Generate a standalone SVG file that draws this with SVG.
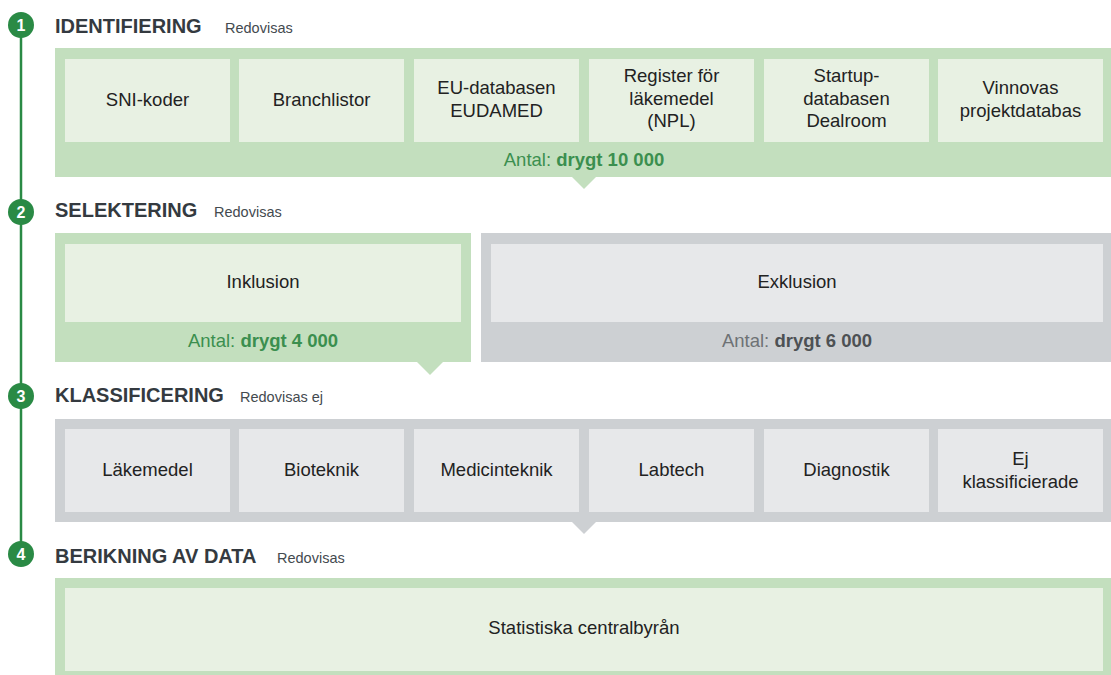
<svg xmlns="http://www.w3.org/2000/svg" width="1111" height="675" viewBox="0 0 1111 675">
<style>
  .h{font-family:"Liberation Sans",Arial,sans-serif;font-weight:bold;font-size:20px;fill:#343a40}
  .sub{font-family:"Liberation Sans",Arial,sans-serif;font-size:14.5px;fill:#444a4f}
  .t{font-family:"Liberation Sans",Arial,sans-serif;font-size:18.5px;fill:#222;text-anchor:middle}
  .ag{font-family:"Liberation Sans",Arial,sans-serif;font-size:18.5px;fill:#3b8f4f;text-anchor:middle}
  .ay{font-family:"Liberation Sans",Arial,sans-serif;font-size:18.5px;fill:#6e7275;text-anchor:middle}
  .ayb{font-weight:bold;fill:#4d5154}
  .b{font-weight:bold}
  .go{fill:#c3dfbe}
  .gi{fill:#e8f1e3}
  .yo{fill:#cdd0d3}
  .yi{fill:#e7e8ea}
  .num{font-family:"Liberation Sans",Arial,sans-serif;font-weight:bold;font-size:16px;fill:#fff;text-anchor:middle}
  .dot{fill:#2a8a45}
</style>
<rect width="1111" height="675" fill="#fff"/>

<g id="connectors">
  <line x1="21" y1="25" x2="21" y2="554" stroke="#2a8a45" stroke-width="2.5"/>
  <polygon class="go" points="572,177 596,177 584,189"/>
  <polygon class="go" points="417,362 443,362 430,375"/>
  <polygon class="yo" points="572,522 596,522 584,534"/>
</g>

<g id="step1">
  <circle class="dot" cx="21" cy="25" r="13"/>
  <text class="num" x="21" y="31">1</text>
  <text class="h" x="55" y="33">IDENTIFIERING</text>
  <text class="sub" x="225" y="33">Redovisas</text>
  <rect class="go" x="55" y="48" width="1056" height="129"/>
  <g id="sni"><rect class="gi" x="65" y="59" width="165" height="83"/><text class="t" x="147.5" y="106">SNI-koder</text></g>
  <g id="branch"><rect class="gi" x="239" y="59" width="165" height="83"/><text class="t" x="321.5" y="106">Branchlistor</text></g>
  <g id="eudamed"><rect class="gi" x="414" y="59" width="165" height="83"/><text class="t" x="496.5" y="94">EU-databasen</text><text class="t" x="496.5" y="116.5">EUDAMED</text></g>
  <g id="npl"><rect class="gi" x="589" y="59" width="165" height="83"/><text class="t" x="671.5" y="82">Register för</text><text class="t" x="671.5" y="104.5">läkemedel</text><text class="t" x="671.5" y="127">(NPL)</text></g>
  <g id="dealroom"><rect class="gi" x="764" y="59" width="165" height="83"/><text class="t" x="846.5" y="82">Startup-</text><text class="t" x="846.5" y="104.5">databasen</text><text class="t" x="846.5" y="127">Dealroom</text></g>
  <g id="vinnova"><rect class="gi" x="938" y="59" width="165" height="83"/><text class="t" x="1020.5" y="94">Vinnovas</text><text class="t" x="1020.5" y="116.5">projektdatabas</text></g>
  <text class="ag" x="584" y="166">Antal: <tspan class="b">drygt 10 000</tspan></text>
</g>

<g id="step2">
  <circle class="dot" cx="21" cy="212" r="13"/>
  <text class="num" x="21" y="218">2</text>
  <text class="h" x="55" y="217">SELEKTERING</text>
  <text class="sub" x="214" y="217">Redovisas</text>
  <g id="inklusion">
    <rect class="go" x="55" y="233" width="416" height="129"/>
    <rect class="gi" x="65" y="244" width="396" height="78"/>
    <text class="t" x="263" y="288">Inklusion</text>
    <text class="ag" x="263" y="347">Antal: <tspan class="b">drygt 4 000</tspan></text>
  </g>
  <g id="exklusion">
    <rect class="yo" x="481" y="233" width="630" height="129"/>
    <rect class="yi" x="491" y="244" width="612" height="78"/>
    <text class="t" x="797" y="288">Exklusion</text>
    <text class="ay" x="797" y="347">Antal: <tspan class="ayb">drygt 6 000</tspan></text>
  </g>
</g>

<g id="step3">
  <circle class="dot" cx="21" cy="396" r="13"/>
  <text class="num" x="21" y="402">3</text>
  <text class="h" x="55" y="402">KLASSIFICERING</text>
  <text class="sub" x="240" y="402">Redovisas ej</text>
  <rect class="yo" x="55" y="419" width="1056" height="103"/>
  <g id="lakemedel"><rect class="yi" x="65" y="429" width="165" height="83"/><text class="t" x="147.5" y="476">Läkemedel</text></g>
  <g id="bioteknik"><rect class="yi" x="239" y="429" width="165" height="83"/><text class="t" x="321.5" y="476">Bioteknik</text></g>
  <g id="medicinteknik"><rect class="yi" x="414" y="429" width="165" height="83"/><text class="t" x="496.5" y="476">Medicinteknik</text></g>
  <g id="labtech"><rect class="yi" x="589" y="429" width="165" height="83"/><text class="t" x="671.5" y="476">Labtech</text></g>
  <g id="diagnostik"><rect class="yi" x="764" y="429" width="165" height="83"/><text class="t" x="846.5" y="476">Diagnostik</text></g>
  <g id="ejklass"><rect class="yi" x="938" y="429" width="165" height="83"/><text class="t" x="1020.5" y="465">Ej</text><text class="t" x="1020.5" y="487.5">klassificierade</text></g>
</g>

<g id="step4">
  <circle class="dot" cx="21" cy="554" r="13"/>
  <text class="num" x="21" y="560">4</text>
  <text class="h" x="55" y="563">BERIKNING AV DATA</text>
  <text class="sub" x="277" y="563">Redovisas</text>
  <g id="scb">
    <rect class="go" x="55" y="578" width="1056" height="103"/>
    <rect class="gi" x="65" y="588" width="1038" height="83"/>
    <text class="t" x="584" y="634">Statistiska centralbyrån</text>
  </g>
</g>
</svg>
